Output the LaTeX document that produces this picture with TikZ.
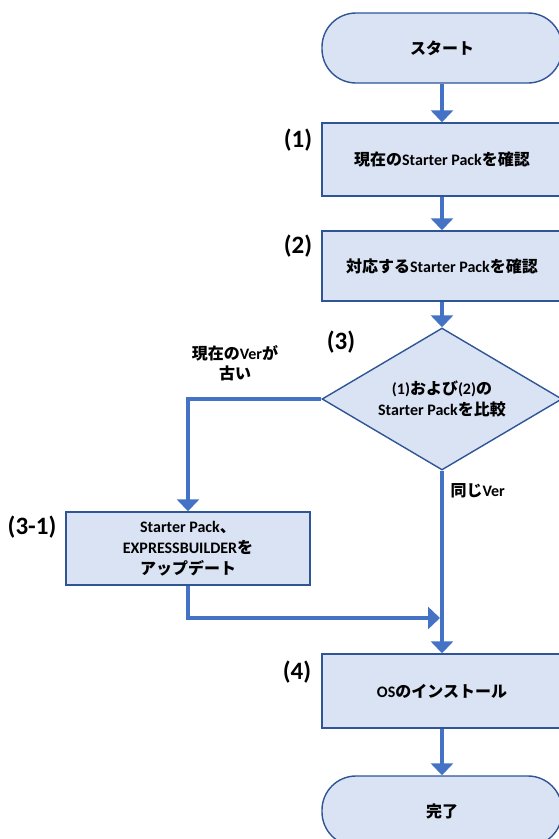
\documentclass[tikz,border=0pt]{standalone}
\usepackage{fontspec}
\setmainfont{Carlito}
\newfontfamily\jpfont{Noto Sans CJK JP}
\newcommand\jtxt[1]{{\jpfont\bfseries #1}}
\usetikzlibrary{shapes.geometric,arrows.meta}
\definecolor{boxfill}{HTML}{DAE3F3}
\definecolor{boxline}{HTML}{2F5597}
\definecolor{arrowblue}{HTML}{4472C4}
\tikzset{
  procbox/.style={draw=boxline, fill=boxfill, line width=1.4pt, minimum width=240pt, minimum height=73pt, inner sep=0pt, align=center, font=\bfseries\fontsize{16}{21}\selectfont},
  termbox/.style={procbox, rounded corners=34pt, minimum height=70pt},
  decbox/.style={procbox, diamond, aspect=1.68, minimum width=240pt, minimum height=142pt, rounded corners=0pt},
  flow/.style={draw=arrowblue, line width=4pt, -{Triangle[width=22pt,length=12pt]}},
  steplabel/.style={font=\bfseries\fontsize{25}{28}\selectfont},
  notelabel/.style={font=\bfseries\fontsize{16}{20}\selectfont, align=center}
}
\begin{document}
\begin{tikzpicture}[x=1pt,y=-1pt]
\useasboundingbox (0,0) rectangle (559,839);
\node[termbox] (start) at (442,48) {\jtxt{スタート}};
\node[procbox] (b1) at (442,159.5) {\jtxt{現在の}Starter Pack\jtxt{を確認}};
\node[procbox, minimum height=70pt] (b2) at (442,266) {\jtxt{対応する}Starter Pack\jtxt{を確認}};
\node[decbox] (dec) at (442,399) {(1)\jtxt{および}(2)\jtxt{の}\\Starter Pack\jtxt{を比較}};
\node[procbox, minimum width=244pt] (b31) at (188,548.5) {Starter Pack\jtxt{、}\\EXPRESSBUILDER\jtxt{を}\\\jtxt{アップデート}};
\node[procbox, minimum height=74pt] (b4) at (442,691) {OS\jtxt{のインストール}};
\node[termbox] (end) at (442,811) {\jtxt{完了}};
\coordinate (merge) at (440,618);

\node[steplabel] (l1) at (298,140) {(1)};
\node[steplabel] (l2) at (298,246) {(2)};
\node[steplabel] (l3) at (341,342) {(3)};
\node[steplabel] (l31) at (32,527) {(3-1)};
\node[steplabel] (l4) at (297,672) {(4)};
\node[notelabel] (old) at (235,363) {\jtxt{現在の}Ver\jtxt{が}\\\jtxt{古い}};
\node[notelabel, anchor=west] (same) at (447,491) {\jtxt{同じ}Ver};

\draw[flow] (start) -- (b1);
\draw[flow] (b1) -- (b2);
\draw[flow] (b2) -- (dec);
\draw[flow] (dec.west) -| (b31.north);
\draw[flow] (dec.south) -- (b4.north);
\draw[flow] (b31.south) |- (merge);
\draw[flow] (b4) -- (end);
\end{tikzpicture}
\end{document}
